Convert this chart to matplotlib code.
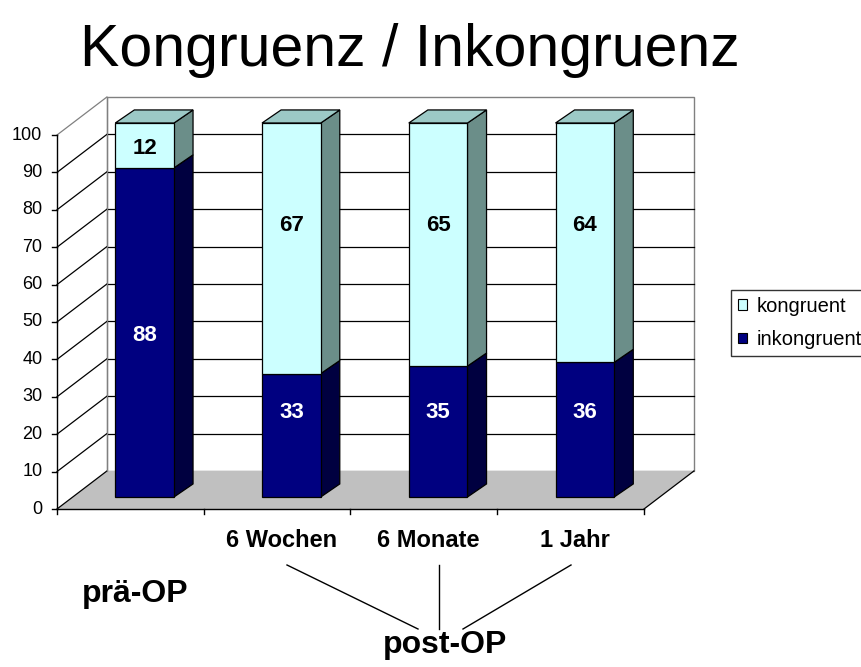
import numpy as np
import matplotlib.pyplot as plt
from matplotlib.patches import Polygon
from matplotlib.lines import Line2D

plt.rcParams['font.family'] = ['Liberation Sans', 'DejaVu Sans']

# Daten
categories = ['', '6 Wochen', '6 Monate', '1 Jahr']
inkongruent = [88, 33, 35, 36]
kongruent = [12, 67, 65, 64]
y_ticks = [0, 10, 20, 30, 40, 50, 60, 70, 80, 90, 100]
title = 'Kongruenz / Inkongruenz'

# Farben (Excel-Stil)
c_ink = '#000080'
c_ink_side = '#000040'
c_kon = '#CCFFFF'
c_kon_side = '#6B8E89'
c_kon_top = '#9CC9C6'
c_floor = '#C0C0C0'
c_border = '#808080'

# 3D-Versatz
wall_dx, wall_dv = 0.34, 10.16     # Tiefe der Wände
bar_dx, bar_dv = 0.097, 3.2        # Vorderseite der Säulen
side_dx, side_dv = 0.13, 3.5       # Säulentiefe
bar_w = 0.40

# Höhe der Wertbeschriftungen (wie im Excel-Original verschoben)
ink_label_y = [46.3, 25.7, 25.7, 25.7]
kon_label_y = [96.5, 75.9, 75.9, 75.9]

fig = plt.figure(figsize=(8.62, 6.67), dpi=100)
ax = fig.add_axes([0, 0, 1, 1])
ax.set_xlim(-0.5 - 57 / 146.75, -0.5 + 805 / 146.75)
ax.set_ylim(-158 / 3.74, 509 / 3.74)
ax.axis('off')

n = len(categories)
x0, x1 = -0.5, n - 0.5
vmax = y_ticks[-1]

# Rückwand, Boden
ax.add_patch(Polygon([(x0 + wall_dx, wall_dv), (x1 + wall_dx, wall_dv),
                      (x1 + wall_dx, vmax + wall_dv), (x0 + wall_dx, vmax + wall_dv)],
                     closed=True, facecolor='white', edgecolor=c_border, lw=1, zorder=1))
ax.add_patch(Polygon([(x0, 0), (x1, 0), (x1 + wall_dx, wall_dv), (x0 + wall_dx, wall_dv)],
                     closed=True, facecolor=c_floor, edgecolor='none', zorder=1))

# Gitterlinien
for t in y_ticks:
    col = c_border if t == vmax else 'black'
    ax.plot([x0, x0 + wall_dx], [t, t + wall_dv], color=col, lw=0.9, zorder=2)
    if 0 < t < vmax:
        ax.plot([x0 + wall_dx, x1 + wall_dx], [t + wall_dv, t + wall_dv], color='black', lw=0.9, zorder=2)
ax.plot([x0 + wall_dx, x0 + wall_dx], [wall_dv, vmax + wall_dv], color=c_border, lw=0.9, zorder=2)
ax.plot([x1, x1 + wall_dx], [0, wall_dv], color='black', lw=0.9, zorder=2)

# Achsen
ax.plot([x0, x0], [0, vmax], color='black', lw=1, zorder=3)
ax.plot([x0, x1], [0, 0], color='black', lw=1, zorder=3)
for t in y_ticks:
    ax.plot([x0 - 0.034, x0], [t, t], color='black', lw=1, zorder=3)
    ax.text(x0 - 0.10, t, str(t), ha='right', va='center', fontsize=13)
for i in range(n + 1):
    ax.plot([x0 + i, x0 + i], [0, -1.4], color='black', lw=1, zorder=3)

# Säulen
xs = np.arange(n) + bar_dx
for seg_bottom, seg_vals, lab_y, face, side, txtcol in [
        (np.zeros(n), inkongruent, ink_label_y, c_ink, c_ink_side, 'white'),
        (np.array(inkongruent), kongruent, kon_label_y, c_kon, c_kon_side, 'black')]:
    bot = seg_bottom + bar_dv
    ax.bar(xs, seg_vals, width=bar_w, bottom=bot, color=face, edgecolor='black', lw=0.9, zorder=5)
    for x, b, h, ly in zip(xs, bot, seg_vals, lab_y):
        xr = x + bar_w / 2
        ax.add_patch(Polygon([(xr, b), (xr + side_dx, b + side_dv),
                              (xr + side_dx, b + h + side_dv), (xr, b + h)],
                             closed=True, facecolor=side, edgecolor='black', lw=0.9, zorder=4))
        ax.text(x, ly, str(h), ha='center', va='center', fontsize=16,
                fontweight='bold', color=txtcol, zorder=6)

# Deckflächen
for x, tot in zip(xs, np.array(inkongruent) + np.array(kongruent)):
    top = tot + bar_dv
    xl, xr = x - bar_w / 2, x + bar_w / 2
    ax.add_patch(Polygon([(xl, top), (xr, top), (xr + side_dx, top + side_dv), (xl + side_dx, top + side_dv)],
                         closed=True, facecolor=c_kon_top, edgecolor='black', lw=0.9, zorder=4))

# Kategorien
for i, lab in enumerate(categories):
    ax.text(i + 0.03, -8.3, lab, ha='center', va='center', fontsize=17, fontweight='bold')

# Titel
fig.text(0.476, 1 - 66 / 667, title, ha='center', va='baseline', fontsize=42.5)

# prä-OP / post-OP
W, H = 862, 667
fig.text(82 / W, 1 - 602 / H, 'prä-OP', ha='left', va='baseline', fontsize=23, fontweight='bold')
fig.text(445 / W, 1 - 653 / H, 'post-OP', ha='center', va='baseline', fontsize=23, fontweight='bold')
for (xa, ya), (xb, yb) in [((287, 565), (418, 629)), ((439, 565), (439, 629)), ((571, 565), (463, 629))]:
    fig.add_artist(Line2D([xa / W, xb / W], [1 - ya / H, 1 - yb / H], color='black', lw=1))

# Legende
handles = [plt.Rectangle((0, 0), 1, 1, facecolor=c_kon, edgecolor='black', lw=0.8),
           plt.Rectangle((0, 0), 1, 1, facecolor=c_ink, edgecolor='black', lw=0.8)]
leg = fig.legend(handles, ['kongruent', 'inkongruent'], loc='center left',
                 bbox_to_anchor=(731 / W, 1 - 323 / H), fontsize=14.5, frameon=True,
                 fancybox=False, handlelength=0.45, handleheight=0.45, handletextpad=0.45,
                 borderpad=0.35, labelspacing=0.72, borderaxespad=0)
leg.get_frame().set_edgecolor('black')
leg.get_frame().set_linewidth(1)

fig.savefig('out.png', dpi=100)
